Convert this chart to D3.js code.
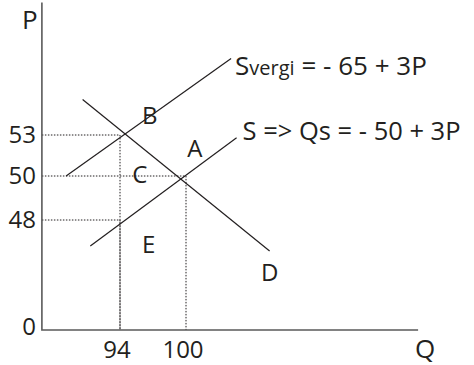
<!DOCTYPE html>
<html>
<head>
<meta charset="utf-8">
<script src="https://cdn.jsdelivr.net/npm/d3@7"></script>
<style>
    body { margin: 0; background: #fff; }
    text { font-family: "Open Sans", sans-serif; fill: #231f20; }
</style>
</head>
<body>
<svg id="chart" width="474" height="365"></svg>
<script>
// values (Q, P); the price axis is schematic, not uniform
const priceTicks = [53, 50, 48];
const quantityTicks = [94, 100];
// dotted guides: [quantity, price]
const guides = [[94, 53], [100, 50], [94, 48]];
const svergiLine = [[89.1, 50], [104.1, 58.6]];
const supplyLine = [[91.3, 36.7], [104.6, 52.8]];
const demandLine = [[90.6, 55.6], [107.6, 34.5]];
const pointLabels = ['B', 'A', 'C', 'E', 'D'];
const pointLabelQ = [96.7, 100.8, 95.8, 96.6, 107.6];
const pointLabelP = [53.8, 51.4, 49.7, 33.6, 21.4];
const qRange = [86.9, 121.1];
const pTop = 62.7;

let svg = d3.select('#chart');

let x = d3.scaleLinear()
    .domain([94, 100])
    .range([120, 186]);

// piecewise scale, the drawing squeezes the 0..48 part
let y = d3.scaleLinear()
    .domain([0, 48, 50, 53])
    .range([330, 220, 176, 135]);

// dotted guides
guides.forEach(function (g) {
    svg.append('path')
        .attr('d', 'M' + x(qRange[0]) + ',' + y(g[1]) + 'H' + x(g[0]) + 'V' + y(0))
        .attr('fill', 'none')
        .attr('stroke', '#231f20')
        .attr('stroke-width', 1)
        .attr('stroke-dasharray', '1.5,1.5');
});

// axes
svg.append('path')
    .attr('d', 'M' + x(qRange[0]) + ',' + y(pTop) + 'V' + y(0) + 'H' + x(qRange[1]))
    .attr('fill', 'none')
    .attr('stroke', '#5a5a5a')
    .attr('stroke-width', 1.6);

let line = d3.line()
    .x(d => x(d[0]))
    .y(d => y(d[1]));

[svergiLine, supplyLine, demandLine].forEach(function (l) {
    svg.append('path')
        .attr('d', line(l))
        .attr('fill', 'none')
        .attr('stroke', '#231f20')
        .attr('stroke-width', 1.2);
});

// tick labels
svg.selectAll('.ptick')
    .data(priceTicks)
    .enter()
    .append('text')
    .attr('class', 'ptick')
    .attr('x', x(qRange[0]) - 6)
    .attr('y', d => y(d) + 8)
    .attr('text-anchor', 'end')
    .style('font-size', '24px')
    .text(d => d);

svg.append('text')
    .attr('x', x(qRange[0]) - 6)
    .attr('y', y(0) + 5)
    .attr('text-anchor', 'end')
    .style('font-size', '24px')
    .text('0');

svg.selectAll('.qtick')
    .data(quantityTicks)
    .enter()
    .append('text')
    .attr('class', 'qtick')
    .attr('x', d => x(d) - 3)
    .attr('y', y(0) + 28)
    .attr('text-anchor', 'middle')
    .style('font-size', '24px')
    .text(d => d);

// axis names
svg.append('text')
    .attr('x', x(qRange[0]) - 20)
    .attr('y', y(pTop) + 27)
    .style('font-size', '26px')
    .text('P');

svg.append('text')
    .attr('x', x(qRange[1]) - 3)
    .attr('y', y(0) + 28)
    .style('font-size', '26px')
    .text('Q');

// point labels
svg.selectAll('.plabel')
    .data(pointLabels)
    .enter()
    .append('text')
    .attr('class', 'plabel')
    .attr('x', (d, i) => x(pointLabelQ[i]))
    .attr('y', (d, i) => y(pointLabelP[i]))
    .attr('text-anchor', 'middle')
    .style('font-size', '24px')
    .text(d => d);

// curve equations
let svergiText = svg.append('text')
    .attr('x', x(svergiLine[1][0]) + 4)
    .attr('y', y(svergiLine[1][1]) + 17)
    .style('font-size', '26px');
svergiText.append('tspan').text('S');
svergiText.append('tspan').style('font-size', '20px').text('vergi');
svergiText.append('tspan').text(' = - 65 + 3P');

svg.append('text')
    .attr('x', x(supplyLine[1][0]) + 6)
    .attr('y', y(supplyLine[1][1]) + 2)
    .style('font-size', '25.5px')
    .text('S => Qs = - 50 + 3P');
</script>
</body>
</html>
